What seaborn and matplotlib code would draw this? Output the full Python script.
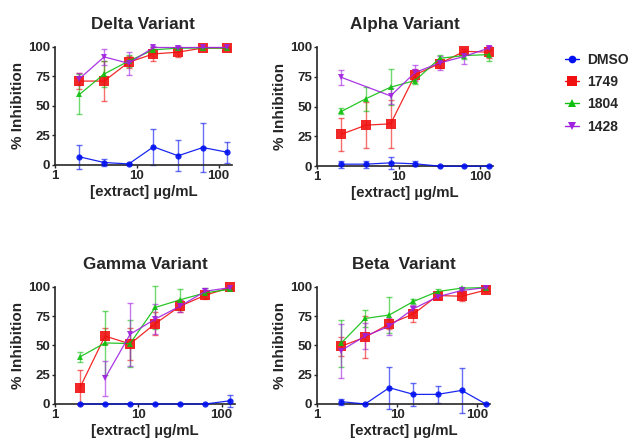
import numpy as np
import pandas as pd
import matplotlib
matplotlib.use("Agg")
import matplotlib.pyplot as plt
from matplotlib.lines import Line2D
import seaborn as sns

# concentrations (ug/mL)
conc = [2, 4, 8, 16, 32, 64, 128]
groups = ["DMSO", "1749", "1804", "1428"]

# Delta
delta_dmso = [6.8, 2, 0.8, 15.3, 7.7, 14.7, 10.7]
delta_dmso_err = [10, 3, 0.5, 15.5, 13, 21, 9]
delta_1749 = [71, 71, 87, 94, 95.5, 99, 99]
delta_1749_err = [7, 17, 5, 6, 4, 0.5, 0.5]
delta_1804 = [59.7, 77, 88, 97.5, 98.9, 99, 99]
delta_1804_err = [17, 11, 5, 2, 1, 0.5, 0.5]
delta_1428 = [73, 91.5, 86, 99.5, 99.4, 99.5, 99.5]
delta_1428_err = [5, 7, 10, 1, 1, 0.5, 0.5]

# Alpha
alpha_dmso = [1.7, 1.7, 2.8, 2, 0, 0, 0]
alpha_dmso_err = [3, 3, 5, 2, 0, 0, 0]
alpha_1749 = [26.8, 34.4, 35.5, 76.6, 86, 96.3, 95.5]
alpha_1749_err = [14, 19, 20, 5, 4, 2, 5]
alpha_1804 = [45.9, 56.6, 66.2, 71.8, 90.4, 92.7, 93.5]
alpha_1804_err = [2.5, 10, 15, 3, 3, 3, 5]
alpha_1428 = [74.4, np.nan, 58.9, 78.6, 86.5, 92, 99]
alpha_1428_err = [6, 0, 7, 6, 6, 6, 2]

# Gamma
gamma_dmso = [0, 0, 0, 0, 0, 0, 2.8]
gamma_dmso_err = [0, 0, 0, 0, 0, 0, 5]
gamma_1749 = [13.9, 58, 51.3, 68.6, 83.6, 92.9, 99.5]
gamma_1749_err = [15, 7, 14, 10, 5, 3, 1]
gamma_1804 = [40.2, 52.1, 51.6, 82.4, 89, 94.9, 98]
gamma_1804_err = [4, 27, 20, 18, 9, 4, 1]
gamma_1428 = [np.nan, 22, 59.5, 72.5, 83.6, 96.3, 99.4]
gamma_1428_err = [0, 15, 27, 13, 5, 3, 1]

# Beta
beta_dmso = [2, 0, 13.9, 8.2, 8.2, 11.6, 0]
beta_dmso_err = [2.5, 0, 18, 10, 7, 19, 0]
beta_1749 = [49.3, 57, 68.3, 76.8, 92.6, 92, 97.2]
beta_1749_err = [8, 18, 4, 7, 3, 4, 1]
beta_1804 = [51.8, 73, 76, 87.5, 96, 98.9, 99.4]
beta_1804_err = [20, 7, 15, 2, 2, 1, 1]
beta_1428 = [45.6, 58, 66.3, 81.3, 91.5, 96.9, 99.4]
beta_1428_err = [23, 11, 7, 3, 2, 2, 1]

panels = [
    ("Delta Variant", [delta_dmso, delta_1749, delta_1804, delta_1428],
     [delta_dmso_err, delta_1749_err, delta_1804_err, delta_1428_err]),
    ("Alpha Variant", [alpha_dmso, alpha_1749, alpha_1804, alpha_1428],
     [alpha_dmso_err, alpha_1749_err, alpha_1804_err, alpha_1428_err]),
    ("Gamma Variant", [gamma_dmso, gamma_1749, gamma_1804, gamma_1428],
     [gamma_dmso_err, gamma_1749_err, gamma_1804_err, gamma_1428_err]),
    ("Beta  Variant", [beta_dmso, beta_1749, beta_1804, beta_1428],
     [beta_dmso_err, beta_1749_err, beta_1804_err, beta_1428_err]),
]

colors = {"DMSO": "#0010f0", "1749": "#f01010", "1804": "#10c010", "1428": "#a020e0"}
markers = {"DMSO": "o", "1749": "s", "1804": "^", "1428": "v"}
msizes = {"DMSO": 4.5, "1749": 6.5, "1804": 5, "1428": 5}

sns.set_style("ticks")
plt.rcParams["font.family"] = ["Liberation Sans", "DejaVu Sans"]
plt.rcParams["font.weight"] = "bold"

fig = plt.figure(figsize=(6.3, 4.42), dpi=100)
boxes = [
    [0.087, 0.627, 0.281, 0.267],
    [0.503, 0.624, 0.280, 0.270],
    [0.087, 0.086, 0.286, 0.265],
    [0.503, 0.086, 0.275, 0.265],
]

for (title, means, errs), box in zip(panels, boxes):
    ax = fig.add_axes(box)
    for g, m, e in zip(groups, means, errs):
        df = pd.DataFrame({"conc": conc, "val": m, "err": e}).dropna()
        ax.errorbar(df["conc"], df["val"], yerr=df["err"], fmt="none",
                    ecolor=colors[g], alpha=0.6, elinewidth=1, capsize=2.5,
                    capthick=1, clip_on=False, zorder=2)
        sns.lineplot(data=df, x="conc", y="val", ax=ax, color=colors[g],
                     marker=markers[g], markersize=msizes[g], markeredgewidth=0,
                     linewidth=0.9, alpha=0.9, clip_on=False, zorder=3)
    ax.set_xscale("log")
    ax.set_xlim(1, 145)
    ax.set_ylim(0, 100)
    ax.set_xticks([1, 10, 100])
    ax.set_xticklabels(["1", "10", "100"])
    ax.xaxis.set_minor_locator(matplotlib.ticker.NullLocator())
    ax.set_yticks([0, 25, 50, 75, 100])
    ax.tick_params(labelsize=9.5, length=2.5, width=1, pad=1)
    for lab in ax.get_xticklabels() + ax.get_yticklabels():
        lab.set_fontweight("bold")
    ax.set_xlabel("[extract] µg/mL", fontsize=10.8, fontweight="bold", labelpad=2)
    ax.set_ylabel("% Inhibition", fontsize=11, fontweight="bold", labelpad=2)
    ax.set_title(title, fontsize=12.3, fontweight="bold", pad=13)
    sns.despine(ax=ax)
    for s in ["left", "bottom"]:
        ax.spines[s].set_linewidth(1.2)

handles = [Line2D([0], [0], color=colors[g], marker=markers[g], markersize=msizes[g] + 1,
                  markeredgewidth=0, linewidth=1) for g in groups]
leg = fig.legend(handles, groups, loc="upper left", bbox_to_anchor=(0.897, 0.881),
                 frameon=False, handlelength=1.0, handletextpad=0.6, labelspacing=0.6,
                 borderpad=0, borderaxespad=0,
                 prop={"weight": "bold", "size": 10})

fig.savefig("out.png", dpi=100)
